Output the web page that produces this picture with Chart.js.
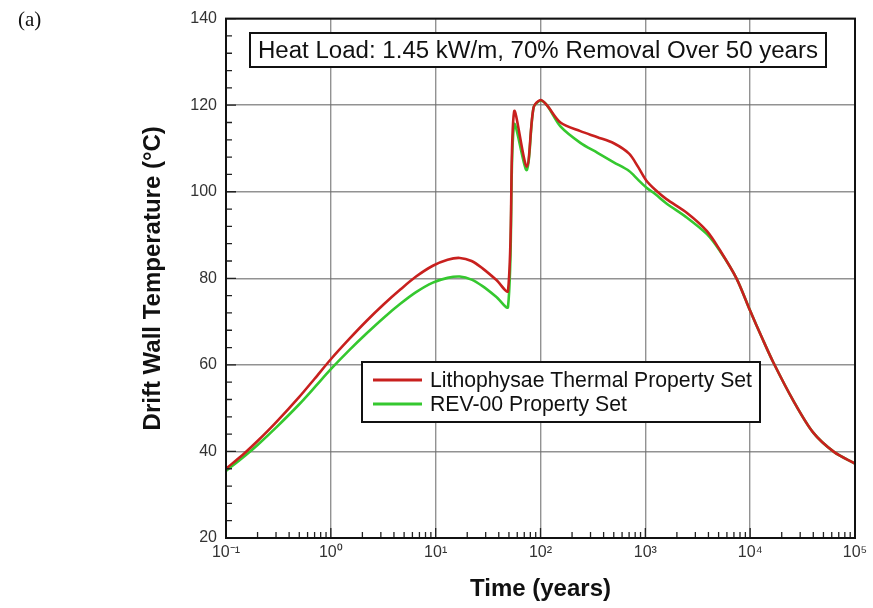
<!DOCTYPE html>
<html>
<head>
<meta charset="utf-8">
<script src="https://cdn.jsdelivr.net/npm/chart.js@4.4.1/dist/chart.umd.min.js"></script>
<style>
  html, body { margin: 0; padding: 0; background: #fff; }
  #wrap { width: 873px; height: 608px; position: relative; }
</style>
</head>
<body>
<div id="wrap"><canvas id="tempChart" width="873" height="608"></canvas></div>
<script>
// time in years (log axis)
const times = [0.1, 0.15, 0.2, 0.3, 0.5, 0.7, 1.0, 1.5, 2.2, 3.2, 4.6, 6.5, 9.4, 13, 17, 22, 28, 38, 49, 56, 74, 86, 100, 115, 155, 240, 350, 500, 700, 850, 1020, 1250, 1590, 2500, 3870, 5150, 7400, 10000, 13000, 16600, 25700, 39800, 63000, 100000];
const lithophysae = [36.0, 39.6, 42.4, 46.7, 52.6, 56.8, 61.3, 66.0, 70.2, 74.0, 77.4, 80.4, 82.9, 84.3, 84.7, 84.0, 82.3, 79.6, 77.1, 118.5, 105.8, 119.5, 121.2, 120.0, 116.0, 114.0, 112.6, 111.2, 108.8, 105.8, 102.6, 100.4, 98.3, 95.1, 90.9, 86.5, 80.0, 72.5, 66.2, 60.6, 51.8, 44.4, 39.9, 37.2];
const rev00 = [35.5, 38.9, 41.5, 45.5, 50.9, 54.8, 59.0, 63.4, 67.3, 70.9, 74.1, 76.8, 79.0, 80.1, 80.4, 79.7, 78.2, 75.7, 73.4, 115.5, 105.0, 119.5, 121.0, 120.0, 115.1, 111.3, 109.0, 106.8, 104.8, 102.8, 101.0, 99.4, 97.3, 94.0, 90.2, 86.3, 80.0, 72.5, 66.2, 60.6, 51.8, 44.4, 39.9, 37.2];
const seriesNames = ['Lithophysae Thermal Property Set', 'REV-00 Property Set'];
const decades = [-1, 0, 1, 2, 3, 4, 5];
const yTicks = [20, 40, 60, 80, 100, 120, 140];
const boxTitle = 'Heat Load: 1.45 kW/m, 70% Removal Over 50 years';

const sup = { '-': '⁻', '0': '⁰', '1': '¹', '2': '²', '3': '³', '4': '⁴', '5': '⁵' };
function powLabel(v) {
    const e = Math.round(Math.log10(v));
    return '10' + String(e).split('').map(c => sup[c]).join('');
}

const toPoints = vals => times.map((t, i) => ({ x: t, y: vals[i] }));

// frame, inside ticks, annotation boxes
const decor = {
    id: 'decor',
    afterDatasetsDraw(chart) {
        const ctx = chart.ctx;
        const a = chart.chartArea;
        const xs = chart.scales.x, ys = chart.scales.y;
        ctx.save();
        ctx.strokeStyle = '#222';
        ctx.lineWidth = 1.3;
        ctx.beginPath();
        decades.forEach(e => {
            for (let m = 1; m < 10; m++) {
                const v = m * Math.pow(10, e);
                if (v > 1e5) break;
                const px = xs.getPixelForValue(v);
                const len = m === 1 ? 10 : 6;
                ctx.moveTo(px, a.bottom);
                ctx.lineTo(px, a.bottom - len);
            }
        });
        for (let v = 20; v <= 140; v += 4) {
            const py = ys.getPixelForValue(v);
            const len = v % 20 === 0 ? 10 : 6;
            ctx.moveTo(a.left, py);
            ctx.lineTo(a.left + len, py);
        }
        ctx.stroke();

        ctx.lineWidth = 2;
        ctx.strokeStyle = '#111';
        ctx.strokeRect(a.left, a.top, a.right - a.left, a.bottom - a.top);

        // heading box
        ctx.font = '18px "Liberation Sans", Arial, sans-serif';
        let w = ctx.measureText(boxTitle).width;
        const fs = 18 * 560 / w;
        ctx.font = fs.toFixed(2) + 'px "Liberation Sans", Arial, sans-serif';
        w = ctx.measureText(boxTitle).width;
        const cx = 538, cy = 50;
        ctx.fillStyle = '#fff';
        ctx.fillRect(cx - w / 2 - 8, cy - 17, w + 16, 34);
        ctx.strokeStyle = '#111';
        ctx.lineWidth = 2;
        ctx.strokeRect(cx - w / 2 - 8, cy - 17, w + 16, 34);
        ctx.fillStyle = '#111';
        ctx.textAlign = 'center';
        ctx.textBaseline = 'middle';
        ctx.fillText(boxTitle, cx, cy + 1);

        // legend box
        const lx = 362, ly = 362, lw = 398, lh = 60;
        ctx.fillStyle = '#fff';
        ctx.fillRect(lx, ly, lw, lh);
        ctx.strokeRect(lx, ly, lw, lh);
        ctx.font = '16px "Liberation Sans", Arial, sans-serif';
        const tw = ctx.measureText(seriesNames[0]).width;
        const lfs = 16 * 322 / tw;
        ctx.font = lfs.toFixed(2) + 'px "Liberation Sans", Arial, sans-serif';
        ctx.textAlign = 'left';
        chart.data.datasets.forEach((ds, i) => {
            const yy = ly + 18 + i * 24;
            ctx.strokeStyle = ds.borderColor;
            ctx.lineWidth = 3;
            ctx.beginPath();
            ctx.moveTo(lx + 11, yy);
            ctx.lineTo(lx + 60, yy);
            ctx.stroke();
            ctx.fillStyle = '#111';
            ctx.fillText(ds.label, lx + 68, yy + 1);
        });

        // panel label
        ctx.font = '21px "Liberation Serif", "Times New Roman", serif';
        ctx.fillStyle = '#111';
        ctx.textAlign = 'left';
        ctx.fillText('(a)', 18, 20);
        ctx.restore();
    }
};

window.onload = function() {
    const canvas = document.getElementById('tempChart');
    const ctx = canvas.getContext('2d');

    new Chart(ctx, {
        type: 'line',
        data: {
            datasets: [{
                label: seriesNames[0],
                data: toPoints(lithophysae),
                borderColor: '#c8201e',
                borderWidth: 2.6,
                pointRadius: 0,
                tension: 0.3,
                fill: false
            }, {
                label: seriesNames[1],
                data: toPoints(rev00),
                borderColor: '#35c82f',
                borderWidth: 2.6,
                pointRadius: 0,
                tension: 0.3,
                fill: false
            }]
        },
        options: {
            responsive: false,
            animation: false,
            devicePixelRatio: 1,
            layout: { padding: { left: 135, right: 18, top: 17, bottom: 0 } },
            plugins: { legend: { display: false }, tooltip: { enabled: false } },
            scales: {
                x: {
                    type: 'logarithmic',
                    min: 0.1,
                    max: 100000,
                    afterBuildTicks: s => { s.ticks = decades.map(e => ({ value: Math.pow(10, e) })); },
                    afterFit: s => { s.height = 70; },
                    grid: { color: 'rgba(110,110,110,0.75)', lineWidth: 1.4, drawTicks: false },
                    border: { display: false },
                    ticks: {
                        color: '#333',
                        padding: 5,
                        maxRotation: 0,
                        autoSkip: false,
                        font: { family: '"Liberation Sans", Arial, sans-serif', size: 16 },
                        callback: v => powLabel(v)
                    },
                    title: {
                        display: true,
                        text: 'Time (years)',
                        color: '#111',
                        padding: { top: 9 },
                        font: { family: '"Liberation Sans", Arial, sans-serif', size: 24, weight: 'bold' }
                    }
                },
                y: {
                    min: 20,
                    max: 140,
                    afterBuildTicks: s => { s.ticks = yTicks.map(v => ({ value: v })); },
                    afterFit: s => { s.width = 91; },
                    grid: { color: 'rgba(110,110,110,0.75)', lineWidth: 1.4, drawTicks: false },
                    border: { display: false },
                    ticks: {
                        color: '#333',
                        padding: 9,
                        font: { family: '"Liberation Sans", Arial, sans-serif', size: 16 }
                    },
                    title: {
                        display: true,
                        text: 'Drift Wall Temperature (°C)',
                        color: '#111',
                        padding: { top: 4 },
                        font: { family: '"Liberation Sans", Arial, sans-serif', size: 24, weight: 'bold' }
                    }
                }
            }
        },
        plugins: [decor]
    });
};
</script>
</body>
</html>
